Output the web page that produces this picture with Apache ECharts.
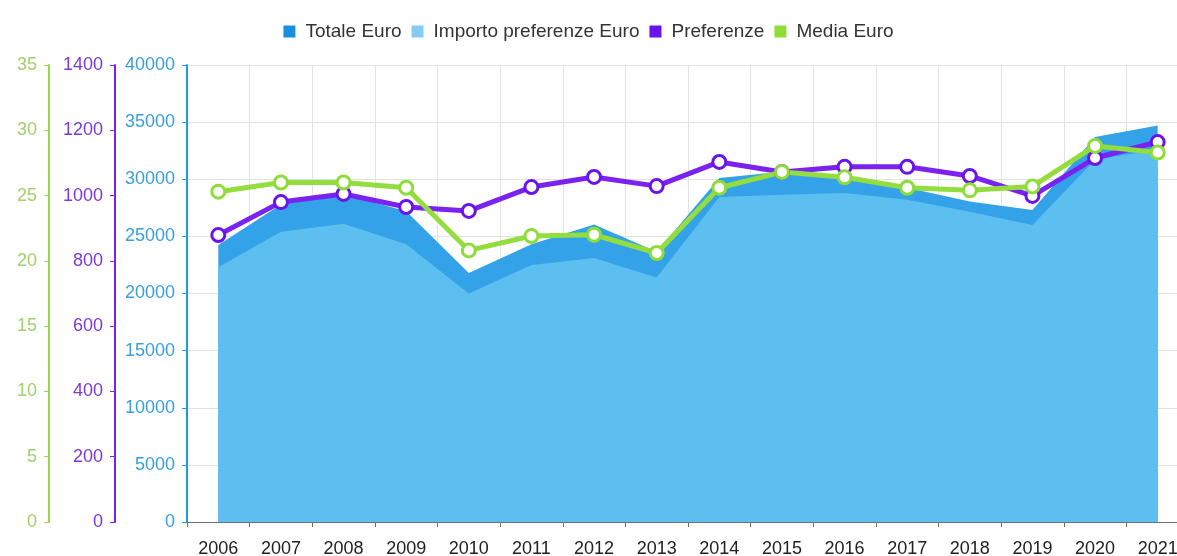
<!DOCTYPE html>
<html>
<head>
<meta charset="utf-8">
<script src="https://cdn.jsdelivr.net/npm/echarts@6/dist/echarts.min.js"></script>
<style>html,body{margin:0;padding:0;background:#fff;overflow:hidden}#c{width:1177px;height:556px}</style>
</head>
<body>
<div id="c"></div>
<script>
const years = ['2006','2007','2008','2009','2010','2011','2012','2013','2014','2015','2016','2017','2018','2019','2020','2021'];
const totaleEuro = [24250, 27800, 28700, 27200, 21800, 24300, 26050, 23650, 30100, 30650, 30300, 29250, 28050, 27300, 33700, 34700];
const importoPreferenze = [22300, 25400, 26100, 24300, 20000, 22500, 23100, 21400, 28450, 28650, 28800, 28200, 27150, 26000, 31700, 32600];
const preferenze = [879, 980, 1005, 965, 953, 1026, 1057, 1029, 1103, 1072, 1088, 1088, 1060, 999, 1115, 1164];
const mediaEuro = [25.3, 26.0, 26.0, 25.6, 20.8, 21.9, 22.0, 20.6, 25.6, 26.8, 26.4, 25.6, 25.4, 25.7, 28.8, 28.3];

const FONT = 'Liberation Sans, Arial, sans-serif';
const plain = v => String(v);
const chart = echarts.init(document.getElementById('c'));
chart.setOption({
  animation: false,
  textStyle: { fontFamily: FONT },
  legend: {
    top: 17, left: 'center', icon: 'rect', itemWidth: 12, itemHeight: 12, itemGap: 10,
    textStyle: { fontSize: 19, color: '#333', fontFamily: FONT, padding: [0, 0, 0, 5] },
    data: [
      { name: 'Totale Euro', itemStyle: { color: '#1a8fe0', borderWidth: 0 } },
      { name: 'Importo preferenze Euro', itemStyle: { color: '#86cbf1', borderWidth: 0 } },
      { name: 'Preferenze', itemStyle: { color: '#6a14ec', borderWidth: 0 } },
      { name: 'Media Euro', itemStyle: { color: '#8edc3a', borderWidth: 0 } }
    ]
  },
  grid: { left: 187, right: -12, top: 65, bottom: 34, containLabel: false, outerBoundsMode: 'none' },
  xAxis: {
    type: 'category', data: years, boundaryGap: true,
    axisLine: { lineStyle: { color: '#6e7079' } },
    axisTick: { show: true, length: 5, lineStyle: { color: '#6e7079' } },
    axisLabel: { fontSize: 18, color: '#222', margin: 18, fontFamily: FONT },
    splitLine: { show: true, lineStyle: { color: '#e2e2e2' } }
  },
  yAxis: [
    {
      type: 'value', min: 0, max: 40000, interval: 5000, position: 'left', offset: 0,
      axisLine: { show: true, lineStyle: { color: '#1e9be8', width: 2 } },
      axisTick: { show: true, length: 5, lineStyle: { color: '#1e9be8' } },
      axisLabel: { fontSize: 18, color: '#3a9ede', margin: 12, fontFamily: FONT, formatter: plain },
      splitLine: { show: true, lineStyle: { color: '#e2e2e2' } }
    },
    {
      type: 'value', min: 0, max: 1400, interval: 200, position: 'left', offset: 72,
      axisLine: { show: true, lineStyle: { color: '#7a22e8', width: 2 } },
      axisTick: { show: true, length: 5, lineStyle: { color: '#7a22e8' } },
      axisLabel: { fontSize: 18, color: '#7a3ad8', margin: 12, fontFamily: FONT, formatter: plain },
      splitLine: { show: false }
    },
    {
      type: 'value', min: 0, max: 35, interval: 5, position: 'left', offset: 138,
      axisLine: { show: true, lineStyle: { color: '#9ad64b', width: 2 } },
      axisTick: { show: true, length: 5, lineStyle: { color: '#9ad64b' } },
      axisLabel: { fontSize: 18, color: '#a2d06a', margin: 12, fontFamily: FONT, formatter: plain },
      splitLine: { show: false }
    }
  ],
  series: [
    {
      name: 'Totale Euro', type: 'line', yAxisIndex: 0, data: totaleEuro,
      showSymbol: false, symbol: 'none',
      itemStyle: { color: '#1a8fe0' },
      lineStyle: { width: 0 },
      areaStyle: { color: '#34a2e8', opacity: 1 }
    },
    {
      name: 'Importo preferenze Euro', type: 'line', yAxisIndex: 0, data: importoPreferenze,
      showSymbol: false, symbol: 'none',
      itemStyle: { color: '#86cbf1' },
      lineStyle: { width: 0 },
      areaStyle: { color: '#5dbef0', opacity: 1 }
    },
    {
      name: 'Preferenze', type: 'line', yAxisIndex: 1, data: preferenze,
      symbol: 'circle', symbolSize: 13, showSymbol: true,
      itemStyle: { color: '#fff', borderColor: '#6a14ec', borderWidth: 3 },
      lineStyle: { color: '#7a22f0', width: 5 }
    },
    {
      name: 'Media Euro', type: 'line', yAxisIndex: 2, data: mediaEuro,
      symbol: 'circle', symbolSize: 13, showSymbol: true,
      itemStyle: { color: '#fff', borderColor: '#8edc3a', borderWidth: 3 },
      lineStyle: { color: '#93dd3f', width: 5 }
    }
  ]
});
</script>
</body>
</html>
